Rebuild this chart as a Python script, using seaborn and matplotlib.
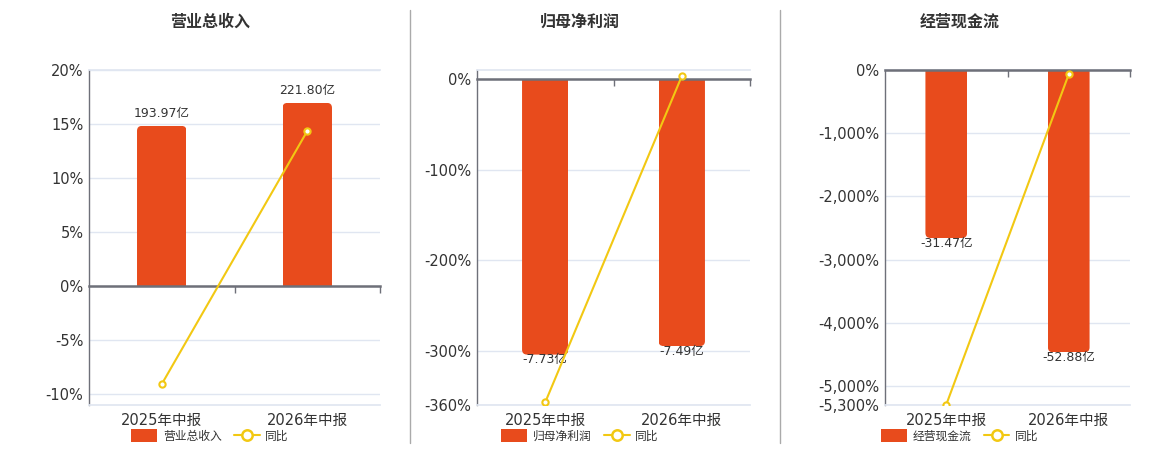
import numpy as np
import pandas as pd
import seaborn as sns
import matplotlib.pyplot as plt
from matplotlib.lines import Line2D
from matplotlib.patches import Patch, Rectangle, FancyBboxPatch
from matplotlib.ticker import FuncFormatter

# Data
periods = ['2025年中报', '2026年中报']

revenue = [193.97, 221.80]          # 亿
revenue_yoy = [-9.07, 14.35]        # %
net_profit = [-7.73, -7.49]
net_profit_yoy = [-357.0, 3.1]
cash_flow = [-31.47, -52.88]
cash_flow_yoy = [-5295.0, -68.0]

titles = ['营业总收入', '归母净利润', '经营现金流']
pct_ticks = [
    [-10, -5, 0, 5, 10, 15, 20],
    [-360, -300, -200, -100, 0],
    [-5300, -5000, -4000, -3000, -2000, -1000, 0],
]

# Style / layout
BAR_COLOR = '#E84B1C'
LINE_COLOR = '#F2C813'
GRID_COLOR = '#E0E6F1'
AXIS_COLOR = '#6E7079'
TEXT_COLOR = '#333333'

pct_lims = [(-11, 20), (-360, 10), (-5300, 0)]
bar_scale = [13.08, 0.0254, 0.01184]     # 亿 per % so that zeros line up
axes_rects = [
    (89, 291),
    (477, 273),
    (885, 245),
]
panel_centers = [210, 580, 960]
W, H = 1160, 450
AX_TOP, AX_BOTTOM = 70, 405


def round_bar_ends(ax, radius_px=5):
    """Swap the seaborn rectangles for copies with rounded outer corners."""
    bbox = ax.get_window_extent()
    x0, x1 = ax.get_xlim()
    y0, y1 = ax.get_ylim()
    x_per_px = (x1 - x0) / bbox.width
    y_per_px = (y1 - y0) / bbox.height
    r = radius_px * x_per_px
    aspect = y_per_px / x_per_px
    ry = r * aspect
    for p in list(ax.patches):
        bx, by = p.get_xy()
        w, h = p.get_width(), p.get_height()
        lo_y, hi_y = min(by, by + h), max(by, by + h)
        if h >= 0:
            ext_lo, ext_hi = lo_y - 2 * ry, hi_y
        else:
            ext_lo, ext_hi = lo_y, hi_y + 2 * ry
        fb = FancyBboxPatch((bx, ext_lo), w, ext_hi - ext_lo,
                            boxstyle=f'round,pad=0,rounding_size={r}',
                            mutation_aspect=aspect, facecolor=p.get_facecolor(),
                            edgecolor='none', transform=ax.transData)
        ax.add_patch(fb)
        fb.set_clip_path(Rectangle((bx, lo_y), w, hi_y - lo_y, transform=ax.transData))
        p.set_visible(False)


sns.set_theme(style='white')
plt.rcParams['font.family'] = ['DejaVu Sans', 'Noto Sans CJK SC']
plt.rcParams['axes.unicode_minus'] = False

fig = plt.figure(figsize=(W / 100, H / 100), dpi=100)

panels = [
    (revenue, revenue_yoy),
    (net_profit, net_profit_yoy),
    (cash_flow, cash_flow_yoy),
]

for i, (values, yoy) in enumerate(panels):
    left, width = axes_rects[i]
    rect = [left / W, (H - AX_BOTTOM) / H, width / W, (AX_BOTTOM - AX_TOP) / H]

    # bottom layer: percent axis with grid and tick labels
    ax = fig.add_axes(rect)
    # middle layer: bars (own hidden scale), top layer: 同比 line
    ax_bar = ax.twinx()
    ax_line = ax.twinx()

    df = pd.DataFrame({'period': periods, 'value': values, 'yoy': yoy})

    sns.barplot(data=df, x='period', y='value', ax=ax_bar, color=BAR_COLOR,
                width=0.34, saturation=1, errorbar=None)
    lo, hi = pct_lims[i]
    k = bar_scale[i]
    ax_bar.set_ylim(lo * k, hi * k)
    labels = [f'{v:.2f}亿' for v in values]
    pad = 4 if values[0] > 0 else -1
    ax_bar.bar_label(ax_bar.containers[0], labels=labels, padding=pad,
                     fontsize=9, color=TEXT_COLOR)

    sns.pointplot(data=df, x='period', y='yoy', ax=ax_line, color=LINE_COLOR,
                  errorbar=None, markers='o', linestyles='-',
                  markersize=4.5, markerfacecolor='white',
                  markeredgecolor=LINE_COLOR, markeredgewidth=1.5, linewidth=1.5)
    ax_line.set_ylim(lo, hi)

    ax.set_ylim(lo, hi)
    for a in (ax, ax_bar, ax_line):
        a.set_xlim(-0.5, 1.5)
        a.set_xlabel('')
        a.set_ylabel('')
    ax_bar.yaxis.set_visible(False)
    ax_line.yaxis.set_visible(False)
    for a in (ax_bar, ax_line):
        for s in a.spines.values():
            s.set_visible(False)

    round_bar_ends(ax_bar, radius_px=5)

    ax.set_yticks(pct_ticks[i])
    ax.yaxis.set_major_formatter(FuncFormatter(lambda v, p: f'{v:,.0f}%'))
    ax.yaxis.grid(True, color=GRID_COLOR, linewidth=1)
    ax.tick_params(axis='y', length=0, pad=4, labelsize=10.5, labelcolor=TEXT_COLOR)
    ax.set_xticks([0, 1])
    ax.set_xticklabels(periods)
    ax.tick_params(axis='x', length=0, pad=6, labelsize=10.5, labelcolor=TEXT_COLOR)

    ax.spines['left'].set_color(AXIS_COLOR)
    ax.spines['left'].set_linewidth(1)
    ax.spines['right'].set_visible(False)
    ax.spines['top'].set_color(GRID_COLOR)
    ax.spines['bottom'].set_color(GRID_COLOR)

    # zero axis line with category-boundary ticks pointing down
    zero_frac = (0 - lo) / (hi - lo)
    zax = ax_line.secondary_xaxis(zero_frac)
    zax.set_alignment('bottom')
    zax.set_xticks([0.5, 1.5])
    zax.set_xticklabels([])
    zax.spines['bottom'].set_color(AXIS_COLOR)
    zax.spines['bottom'].set_linewidth(1.8)
    zax.tick_params(axis='x', length=5, width=1, color=AXIS_COLOR, direction='out')

    fig.text(panel_centers[i] / W, 1 - 22 / H, titles[i], ha='center', va='center',
             fontsize=11.5, fontweight='bold', color=TEXT_COLOR)

    handles = [
        Patch(facecolor=BAR_COLOR, edgecolor='none'),
        Line2D([], [], color=LINE_COLOR, lw=1.5, marker='o', markersize=7.5,
               markerfacecolor='white', markeredgecolor=LINE_COLOR, markeredgewidth=1.8),
    ]
    fig.legend(handles, [titles[i], '同比'], loc='center',
               bbox_to_anchor=(panel_centers[i] / W, 1 - 436 / H), ncol=2,
               frameon=False, fontsize=8.5, handlelength=2.2, handleheight=1.2,
               handletextpad=0.5, columnspacing=1.0, labelcolor=TEXT_COLOR)

# separators between panels
for x in (410, 780):
    fig.add_artist(Line2D([x / W, x / W], [1 - 443 / H, 1 - 10 / H],
                          color='#AAAAAA', lw=1))

fig.savefig('out.png', dpi=100)
